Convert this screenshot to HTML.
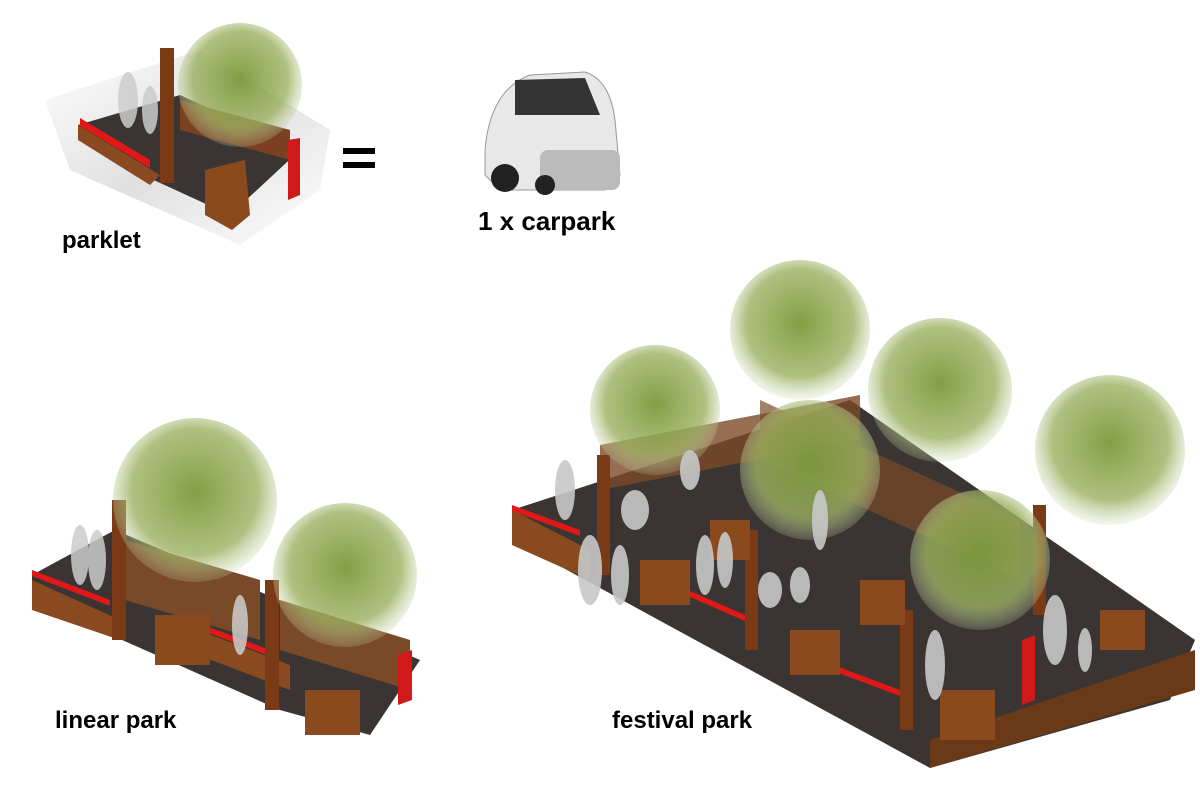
<!DOCTYPE html>
<html><head><meta charset="utf-8"><style>
html,body{margin:0;padding:0;background:#fff;}
svg{display:block}
text{font-family:"Liberation Sans",Arial,sans-serif;font-weight:bold;fill:#000}
</style></head><body>
<svg width="1200" height="800" viewBox="0 0 1200 800" xmlns="http://www.w3.org/2000/svg">
<defs>
<radialGradient id="tree" cx="50%" cy="45%" r="55%">
<stop offset="0" stop-color="#7a9a3a" stop-opacity="0.95"/>
<stop offset="0.7" stop-color="#9cb060" stop-opacity="0.8"/>
<stop offset="1" stop-color="#c8d4a8" stop-opacity="0.2"/>
</radialGradient>
<linearGradient id="shadow" x1="0" y1="0" x2="1" y2="1">
<stop offset="0" stop-color="#fff"/><stop offset="0.5" stop-color="#d8d8d8"/><stop offset="1" stop-color="#fff"/>
</linearGradient>
</defs>

<!-- parklet -->
<polygon points="45,100 200,50 330,130 320,190 240,245 70,170" fill="url(#shadow)" opacity="0.8"/>
<polygon points="78,125 180,95 300,150 230,215 110,160" fill="#3a3532"/>
<polygon points="78,125 78,140 150,185 160,175" fill="#8a4a20"/>
<polygon points="180,100 290,130 290,160 180,130" fill="#7a4020"/>
<polygon points="80,118 150,160 150,168 80,126" fill="#e01818"/>
<polygon points="288,140 300,138 300,195 288,200" fill="#d01a1a"/>
<rect x="160" y="48" width="14" height="135" fill="#7a3a15"/>
<polygon points="205,170 245,160 250,215 232,230 205,215" fill="#8a4a1e"/>
<circle cx="240" cy="85" r="62" fill="url(#tree)"/>
<g fill="#ccc" opacity="0.85"><ellipse cx="128" cy="100" rx="10" ry="28"/><ellipse cx="150" cy="110" rx="8" ry="24"/></g>
<text x="62" y="248" font-size="24">parklet</text>

<rect x="343" y="148" width="32" height="6" fill="#000"/>
<rect x="343" y="162" width="32" height="6" fill="#000"/>

<!-- car -->
<path d="M485,150 Q490,90 530,75 L585,72 Q610,80 615,120 L620,175 L605,190 L500,190 L485,175 Z" fill="#e8e8e8" stroke="#999"/>
<path d="M515,80 L585,78 L600,115 L515,115 Z" fill="#333"/>
<rect x="540" y="150" width="80" height="40" rx="8" fill="#bbb"/>
<circle cx="505" cy="178" r="14" fill="#222"/><circle cx="545" cy="185" r="10" fill="#222"/>
<text x="478" y="230" font-size="26">1 x carpark</text>

<!-- linear park -->
<polygon points="32,575 115,530 420,660 370,735 280,710 32,600" fill="#3a3532"/>
<polygon points="32,580 32,610 120,640 120,620" fill="#8a4a20"/>
<polygon points="185,625 290,665 290,690 185,650" fill="#8a4a20"/>
<polygon points="125,540 260,580 260,640 125,600" fill="#7a4a28"/>
<polygon points="280,600 410,640 410,690 280,650" fill="#7a4a28"/>
<polygon points="32,570 110,600 110,606 32,576" fill="#e01818"/>
<polygon points="185,618 270,650 270,656 185,624" fill="#e01818"/>
<polygon points="398,655 412,650 412,700 398,705" fill="#d01a1a"/>
<rect x="112" y="500" width="14" height="140" fill="#7a3a15"/>
<rect x="265" y="580" width="14" height="130" fill="#7a3a15"/>
<rect x="155" y="615" width="55" height="50" fill="#8a4a1e"/>
<rect x="305" y="690" width="55" height="45" fill="#8a4a1e"/>
<circle cx="195" cy="500" r="82" fill="url(#tree)"/>
<circle cx="345" cy="575" r="72" fill="url(#tree)"/>
<g fill="#ccc" opacity="0.85"><ellipse cx="80" cy="555" rx="9" ry="30"/><ellipse cx="97" cy="560" rx="9" ry="30"/><ellipse cx="240" cy="625" rx="8" ry="30"/></g>
<text x="55" y="728" font-size="24">linear park</text>

<!-- festival park -->
<polygon points="512,510 850,400 1195,640 1170,700 930,768 512,540" fill="#3a3532"/>
<polygon points="512,510 512,545 590,580 590,550" fill="#8a4a20"/>
<polygon points="930,740 1195,650 1195,690 930,768" fill="#6a3a18"/>
<polygon points="600,445 860,395 860,440 600,490" fill="#7a4a28" opacity="0.8"/>
<polygon points="760,400 1020,520 1020,580 760,460" fill="#7a4a28" opacity="0.7"/>
<polygon points="512,505 580,530 580,536 512,511" fill="#e01818"/>
<polygon points="665,580 745,615 745,621 665,586" fill="#e01818"/>
<polygon points="820,660 900,690 900,696 820,666" fill="#e01818"/>
<polygon points="1022,640 1035,635 1035,700 1022,705" fill="#d01a1a"/>
<rect x="597" y="455" width="13" height="120" fill="#7a3a15"/>
<rect x="745" y="530" width="13" height="120" fill="#7a3a15"/>
<rect x="900" y="610" width="13" height="120" fill="#7a3a15"/>
<rect x="1033" y="505" width="13" height="110" fill="#7a3a15"/>
<rect x="640" y="560" width="50" height="45" fill="#8a4a1e"/>
<rect x="790" y="630" width="50" height="45" fill="#8a4a1e"/>
<rect x="860" y="580" width="45" height="45" fill="#8a4a1e"/>
<rect x="940" y="690" width="55" height="50" fill="#8a4a1e"/>
<rect x="1100" y="610" width="45" height="40" fill="#8a4a1e"/>
<rect x="710" y="520" width="40" height="40" fill="#8a4a1e"/>
<circle cx="800" cy="330" r="70" fill="url(#tree)"/>
<circle cx="655" cy="410" r="65" fill="url(#tree)"/>
<circle cx="940" cy="390" r="72" fill="url(#tree)"/>
<circle cx="1110" cy="450" r="75" fill="url(#tree)"/>
<circle cx="810" cy="470" r="70" fill="url(#tree)"/>
<circle cx="980" cy="560" r="70" fill="url(#tree)"/>
<g fill="#c8c8c8" opacity="0.9">
<ellipse cx="565" cy="490" rx="10" ry="30"/><ellipse cx="590" cy="570" rx="12" ry="35"/><ellipse cx="620" cy="575" rx="9" ry="30"/>
<ellipse cx="635" cy="510" rx="14" ry="20"/><ellipse cx="705" cy="565" rx="9" ry="30"/><ellipse cx="725" cy="560" rx="8" ry="28"/>
<ellipse cx="770" cy="590" rx="12" ry="18"/><ellipse cx="800" cy="585" rx="10" ry="18"/><ellipse cx="820" cy="520" rx="8" ry="30"/>
<ellipse cx="935" cy="665" rx="10" ry="35"/><ellipse cx="1055" cy="630" rx="12" ry="35"/><ellipse cx="1085" cy="650" rx="7" ry="22"/>
<ellipse cx="690" cy="470" rx="10" ry="20"/></g>
<text x="612" y="728" font-size="24">festival park</text>
</svg>
</body></html>
